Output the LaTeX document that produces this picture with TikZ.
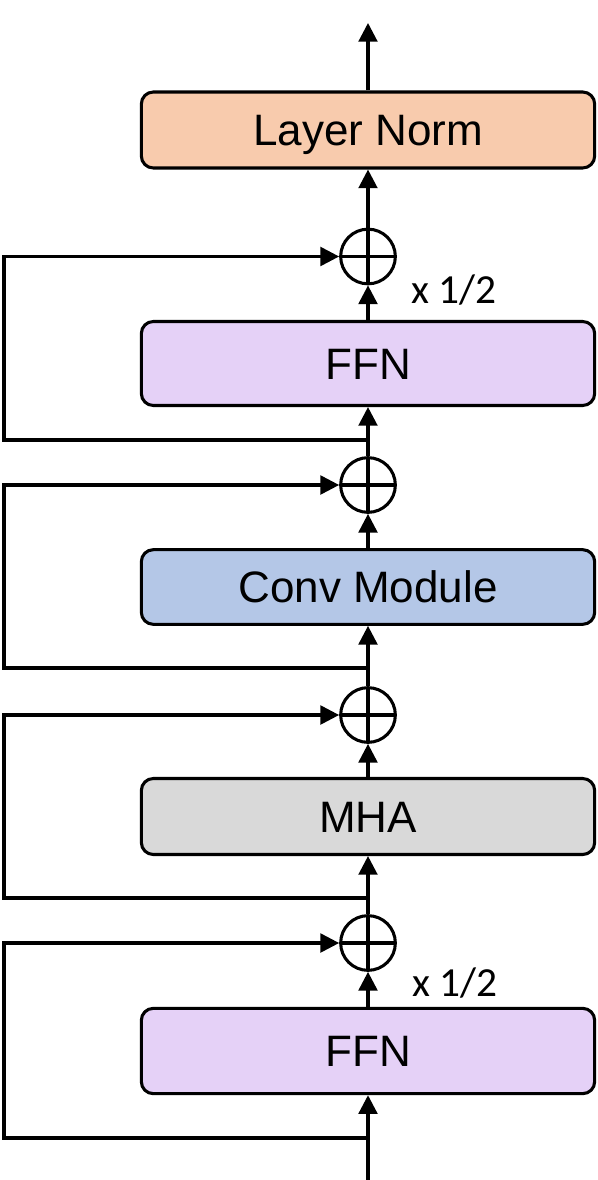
\documentclass[tikz,border=0pt]{standalone}
\usepackage{fontspec}
\setmainfont{Liberation Sans}
\newfontfamily\halffont{Carlito}
\usetikzlibrary{arrows.meta}

\definecolor{normfill}{RGB}{248,203,173}
\definecolor{ffnfill}{RGB}{229,209,247}
\definecolor{convfill}{RGB}{180,199,231}
\definecolor{mhafill}{RGB}{217,217,217}

\tikzset{every picture/.style={line width=2.3pt}}
\tikzset{
  block/.style={draw, rounded corners=9pt, minimum width=340pt, inner sep=0pt,
    text height=23.6pt, text depth=0pt, font=\fontsize{33}{40}\selectfont},
  addsym/.style={draw, circle, minimum size=41pt, inner sep=0pt,
    path picture={\draw (path picture bounding box.north) -- (path picture bounding box.south)
      (path picture bounding box.west) -- (path picture bounding box.east);}},
  arr/.style={-{Triangle[length=14pt,width=14pt]}},
  halflabel/.style={anchor=base west, inner sep=0pt, font=\halffont\fontsize{31}{36}\selectfont}
}

\begin{document}
\begin{tikzpicture}[x=0.75pt,y=0.75pt,yscale=-1,xscale=1]
\useasboundingbox (0,0) rectangle (598,1180);

%Rounded Rect: blocks
\node [block, fill=ffnfill, minimum height=64pt] (ffnA) at (368,1051) {FFN};
\node [block, fill=mhafill, minimum height=57pt] (mha) at (368,816.5) {MHA};
\node [block, fill=convfill, minimum height=56pt] (conv) at (368,587) {Conv Module};
\node [block, fill=ffnfill, minimum height=63pt] (ffnB) at (368,363.5) {FFN};
\node [block, fill=normfill, minimum height=57pt] (norm) at (368,130) {Layer Norm};

%Shape: Circle (adders)
\node [addsym] (addA) at (368,943) {};
\node [addsym] (addB) at (368,715) {};
\node [addsym] (addC) at (368,485) {};
\node [addsym] (addD) at (368,256.5) {};

%Coordinates: input, output, residual taps
\coordinate (in) at (368,1180);
\coordinate (out) at (368,23);
\coordinate (tapA) at (368,1138);
\coordinate (tapAl) at (4,1138);
\coordinate (tapB) at (368,898);
\coordinate (tapBl) at (4,898);
\coordinate (tapC) at (368,668);
\coordinate (tapCl) at (4,668);
\coordinate (tapD) at (368,440);
\coordinate (tapDl) at (4,440);

%Straight Lines: main path
\draw [arr] (in) -- (ffnA.south);
\draw [arr] (ffnA.north) -- (addA.south);
\draw [arr] (addA.north) -- (mha.south);
\draw [arr] (mha.north) -- (addB.south);
\draw [arr] (addB.north) -- (conv.south);
\draw [arr] (conv.north) -- (addC.south);
\draw [arr] (addC.north) -- (ffnB.south);
\draw [arr] (ffnB.north) -- (addD.south);
\draw [arr] (addD.north) -- (norm.south);
\draw [arr] (norm.north) -- (out);

%Straight Lines: residual paths
\draw [arr] (tapA) -- (tapAl) |- (addA.west);
\draw [arr] (tapB) -- (tapBl) |- (addB.west);
\draw [arr] (tapC) -- (tapCl) |- (addC.west);
\draw [arr] (tapD) -- (tapDl) |- (addD.west);

% Text Node
\node [halflabel] (halfA) at (411,996) {x 1/2};
% Text Node
\node [halflabel] (halfB) at (410,304) {x 1/2};

\end{tikzpicture}
\end{document}
